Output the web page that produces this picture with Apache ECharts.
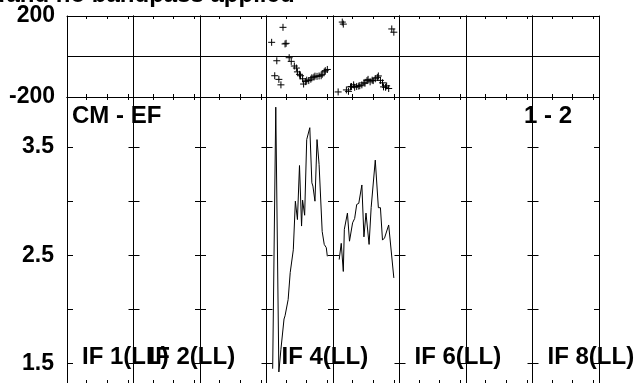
<!DOCTYPE html>
<html><head><meta charset="utf-8">
<script src="https://cdn.jsdelivr.net/npm/echarts@6/dist/echarts.min.js"></script>
<style>html,body{margin:0;padding:0;background:#fff}#c{width:636px;height:383px}</style>
</head><body><div id="c"></div>
<script>
// ---------- data ----------
const chanTicks = [20, 40, 60];
const phaseTicksLabelled = [-200, 200];
const ampTicks = [1.5, 2.0, 2.5, 3.0, 3.5];
const ampTickLabels = [1.5, 2.5, 3.5];
const ifLabelText = ['IF 1(LL)', 'IF 2(LL)', 'IF 4(LL)', 'IF 6(LL)', 'IF 8(LL)'];
const ifLabelPanel = [0, 1, 3, 5, 7];
const baselineText = 'CM - EF';
const stokesText = '1 - 2';
const titleHead = 'applied';
const titleTail = 'and no bandpass applied';

// IF 4 phase (deg) per channel
const if4PhaseCh = [6, 9, 11, 13, 15, 17, 19, 20, 23, 25, 28, 30, 31, 33, 34, 36, 37, 39, 40, 42, 44, 45, 47, 48, 50, 52, 54, 55, 57, 58, 60];
const if4Phase   = [70, -95, -21, -113, -140, 144, 62, 65, -6, -24, -47, -57, -76, -88, -95, -110, -136, -124, -117, -119, -112, -105, -102, -97, -98, -96, -95, -88, -76, -70, -64];
// IF 5 phase (deg) per channel
const if5PhaseCh = [6, 10, 11, 14, 16, 18, 19, 21, 22, 24, 26, 27, 29, 31, 32, 34, 35, 37, 39, 40, 42, 44, 45, 47, 49, 50, 52, 53, 55, 58, 60];
const if5Phase   = [-175, 170, 160, -165, -172, -150, -148, -140, -152, -148, -146, -144, -140, -130, -132, -119, -113, -125, -117, -119, -110, -103, -96, -118, -130, -150, -152, -145, -158, 136, 120];
// IF 4 amplitude per channel
const if4AmpCh = [7, 10, 13, 15, 18, 19, 22, 24, 27, 29, 31, 33, 35, 36, 38, 40, 43, 45, 46, 48, 50, 52, 55, 57, 59, 60];
const if4Amp   = [1.45, 3.87, 1.42, 1.63, 1.91, 1.94, 2.09, 2.34, 2.55, 3.00, 2.83, 3.33, 2.77, 3.01, 2.87, 3.57, 3.68, 3.17, 3.14, 3.00, 3.57, 3.34, 2.72, 2.60, 2.57, 2.49];
// IF 5 amplitude per channel
const if5AmpCh = [7, 9, 11, 12, 15, 17, 20, 22, 24, 26, 29, 31, 33, 36, 38, 42, 45, 47, 49, 51, 55, 60];
const if5Amp   = [2.46, 2.61, 2.35, 2.74, 2.89, 2.63, 2.80, 2.84, 2.97, 2.98, 3.15, 2.67, 2.89, 2.60, 2.94, 3.38, 2.94, 2.94, 2.64, 2.66, 2.78, 2.29];

// ---------- layout ----------
const N_IF = 8;
const L = 67, PW = 66.5, TOP = 16, MID = 97, BOT = 384;
const chanMin = 1, chanMax = 65.5;
const ampMin = 1.318, ampMax = 3.964;
const FONT = '"Liberation Sans", Arial, sans-serif';

const grid = [], xAxis = [], yAxis = [];
const topX = [], topY = [], botX = [], botY = [];
const blackLine = { show: true, onZero: false, lineStyle: { color: '#000', width: 1 } };

function chanAxis(g, pos) {
  xAxis.push({
    type: 'value', gridIndex: g, position: pos, min: chanMin, max: chanMax,
    axisLine: blackLine,
    axisTick: { show: true, inside: true, length: 3, customValues: chanTicks, lineStyle: { color: '#000' } },
    axisLabel: { show: false }, splitLine: { show: false }
  });
  return xAxis.length - 1;
}

for (let i = 0; i < N_IF; i++) {
  // phase panel
  grid.push({ left: L + i * PW, top: TOP, width: PW, height: MID - TOP });
  const gt = grid.length - 1;
  topX.push(chanAxis(gt, 'bottom'));
  chanAxis(gt, 'top');
  yAxis.push({
    type: 'value', gridIndex: gt, position: 'left', min: -200, max: 200, interval: 200,
    axisLine: blackLine, axisTick: { show: false },
    splitLine: { show: true, lineStyle: { color: '#000', width: 1 } },
    axisLabel: {
      show: i === 0, margin: 12, color: '#000', fontFamily: FONT, fontWeight: 'bold', fontSize: 23,
      formatter: v => (phaseTicksLabelled.indexOf(v) >= 0 ? String(v) : '')
    }
  });
  topY.push(yAxis.length - 1);
  yAxis.push({
    type: 'value', gridIndex: gt, position: 'right', min: -200, max: 200,
    axisLine: blackLine, axisTick: { show: false }, axisLabel: { show: false }, splitLine: { show: false }
  });

  // amplitude panel
  grid.push({ left: L + i * PW, top: MID, width: PW, height: BOT - MID });
  const gb = grid.length - 1;
  botX.push(chanAxis(gb, 'bottom'));
  chanAxis(gb, 'top');
  yAxis.push({
    type: 'value', gridIndex: gb, position: 'left', min: ampMin, max: ampMax,
    axisLine: blackLine,
    axisTick: { show: true, inside: true, length: 6, customValues: ampTicks, lineStyle: { color: '#000' } },
    splitLine: { show: false },
    axisLabel: {
      show: i === 0, customValues: ampTickLabels, margin: 13, color: '#000',
      fontFamily: FONT, fontWeight: 'bold', fontSize: 23, formatter: v => v.toFixed(1)
    }
  });
  botY.push(yAxis.length - 1);
  yAxis.push({
    type: 'value', gridIndex: gb, position: 'right', min: ampMin, max: ampMax,
    axisLine: blackLine,
    axisTick: { show: true, inside: true, length: 5, customValues: ampTicks, lineStyle: { color: '#000' } },
    axisLabel: { show: false }, splitLine: { show: false }
  });
}

const zip = (a, b) => a.map((v, k) => [v, b[k]]);
const crossStyle = {
  type: 'scatter', symbol: 'path://M5,0L5,10M0,5L10,5', symbolSize: 7, silent: true,
  itemStyle: { color: 'rgba(0,0,0,0)', borderColor: '#000', borderWidth: 1, opacity: 1 }
};
const lineStyleS = {
  type: 'line', symbol: 'none', showSymbol: false, silent: true,
  lineStyle: { color: '#000', width: 1 }
};

const series = [
  Object.assign({}, crossStyle, { xAxisIndex: topX[3], yAxisIndex: topY[3], data: zip(if4PhaseCh, if4Phase) }),
  Object.assign({}, crossStyle, { xAxisIndex: topX[4], yAxisIndex: topY[4], data: zip(if5PhaseCh, if5Phase) }),
  Object.assign({}, lineStyleS, { xAxisIndex: botX[3], yAxisIndex: botY[3], data: zip(if4AmpCh, if4Amp) }),
  Object.assign({}, lineStyleS, { xAxisIndex: botX[4], yAxisIndex: botY[4], data: zip(if5AmpCh, if5Amp) })
];

const textFont = 'bold 24px ' + FONT;
const titleFont = 'bold 24px ' + FONT;
const graphic = [
  { type: 'text', x: 5, y: -5, style: { text: titleHead, font: titleFont, fill: '#000', align: 'right', verticalAlign: 'middle' } },
  { type: 'text', x: 6.5, y: -5, style: { text: titleTail, font: titleFont, fill: '#000', align: 'left', verticalAlign: 'middle' } },
  { type: 'text', x: 72, y: 116, style: { text: baselineText, font: textFont, fill: '#000', align: 'left', verticalAlign: 'middle' } },
  { type: 'text', x: 572, y: 116, style: { text: stokesText, font: textFont, fill: '#000', align: 'right', verticalAlign: 'middle' } }
];
ifLabelText.forEach((t, k) => {
  graphic.push({ type: 'text', x: L + ifLabelPanel[k] * PW + 15, y: 357,
    style: { text: t, font: textFont, fill: '#000', align: 'left', verticalAlign: 'middle' } });
});

const chart = echarts.init(document.getElementById('c'), null, { renderer: 'canvas' });
chart.setOption({
  animation: false,
  backgroundColor: '#fff',
  grid, xAxis, yAxis, series, graphic
});
</script>
</body></html>
